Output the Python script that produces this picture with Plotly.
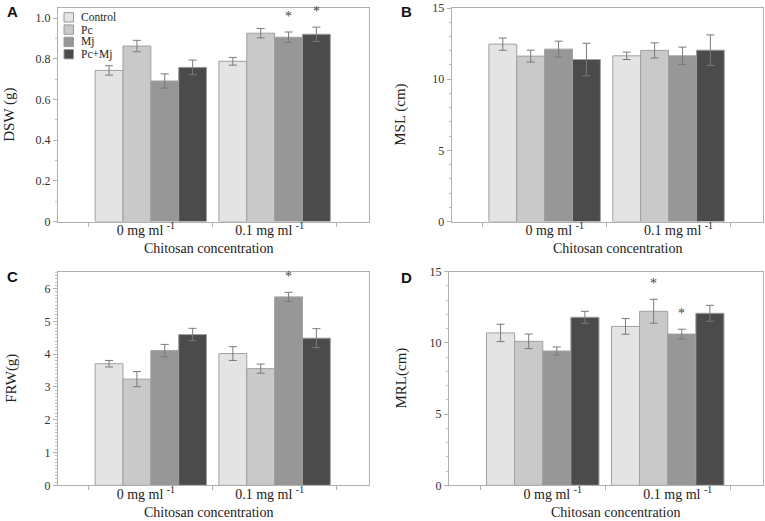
import plotly.graph_objects as go

W, H = 765, 521
series = ["Control", "Pc", "Mj", "Pc+Mj"]
colors = ["#e4e4e4", "#c9c9c9", "#979797", "#4b4b4b"]
cats = ["0 mg ml <sup>-1</sup>", "0.1 mg ml <sup>-1</sup>"]

# values per series: [0 mg, 0.1 mg]
dsw = [[0.743, 0.788], [0.863, 0.926], [0.691, 0.906], [0.758, 0.921]]
dsw_err = [[0.023, 0.019], [0.028, 0.023], [0.035, 0.026], [0.036, 0.035]]
msl = [[12.46, 11.64], [11.62, 12.02], [12.11, 11.64], [11.38, 12.04]]
msl_err = [[0.43, 0.26], [0.42, 0.53], [0.56, 0.61], [1.14, 1.07]]
frw = [[3.71, 4.02], [3.24, 3.56], [4.11, 5.75], [4.60, 4.49]]
frw_err = [[0.10, 0.21], [0.23, 0.14], [0.19, 0.14], [0.19, 0.29]]
mrl = [[10.70, 11.16], [10.11, 12.22], [9.43, 10.62], [11.80, 12.08]]
mrl_err = [[0.61, 0.55], [0.51, 0.84], [0.28, 0.34], [0.42, 0.56]]

# significance marks: (series index, category index)
sig_a = [(2, 1), (3, 1)]
sig_b = []
sig_c = [(2, 1)]
sig_d = [(1, 1), (2, 1)]

panels = [
    dict(name="A", vals=dsw, err=dsw_err, sig=sig_a, ytitle="DSW (g)", yr=[0, 1.05], dt=0.2, mdt=0.1,
         px=(58, 368.7), py=(8, 221.5), title_x=10, letter=(13, 12), tshift=-5),
    dict(name="B", vals=msl, err=msl_err, sig=sig_b, ytitle="MSL (cm)", yr=[0, 15], dt=5, mdt=1,
         px=(451.7, 762.7), py=(8, 221.5), title_x=401, letter=(406, 12), tshift=10),
    dict(name="C", vals=frw, err=frw_err, sig=sig_c, ytitle="FRW(g)", yr=[0, 6.5], dt=1, mdt=0.1,
         px=(58, 368.7), py=(272.3, 485.3), title_x=12, letter=(13, 276), tshift=-5),
    dict(name="D", vals=mrl, err=mrl_err, sig=sig_d, ytitle="MRL(cm)", yr=[0, 15], dt=5, mdt=1,
         px=(449, 762.7), py=(271.7, 485.3), title_x=401, letter=(406, 277), tshift=10),
]
XR = [-0.75, 1.76]

fig = go.Figure()
SERIF = "Liberation Serif"
annotations = []
shapes = []

for k, p in enumerate(panels):
    ax = "" if k == 0 else str(k + 1)
    xa, ya = "x" + ax, "y" + ax
    for i, s in enumerate(series):
        fig.add_trace(go.Bar(
            x=cats, y=p["vals"][i], name=s, xaxis=xa, yaxis=ya,
            marker=dict(color=colors[i], line=dict(color="#a0a0a0", width=1)),
            error_y=dict(type="data", array=p["err"][i], color="#7a7a7a", thickness=1, width=4),
            showlegend=False, offsetgroup=str(i),
        ))
    x0, x1 = p["px"]
    y0, y1 = p["py"]
    dom_x = [x0 / W, x1 / W]
    dom_y = [1 - y1 / H, 1 - y0 / H]
    fig.layout["xaxis" + ax] = dict(
        domain=dom_x, anchor=ya, type="category", range=XR, tickson="boundaries",
        ticks="outside", ticklen=4, tickcolor="#b0b0b0", showline=True, linecolor="#b0b0b0",
        linewidth=1, mirror=True, showgrid=False, zeroline=False, automargin=False,
        tickfont=dict(family=SERIF, size=14, color="#222"), ticklabelshift=p["tshift"],
        ticklabelstandoff=-4,
    )
    fig.layout["yaxis" + ax] = dict(
        domain=dom_y, anchor=xa, range=p["yr"], dtick=p["dt"], tick0=0,
        ticks="outside", ticklen=4, tickcolor="#b0b0b0", showline=True, linecolor="#b0b0b0",
        linewidth=1, mirror=True, showgrid=False, zeroline=False, automargin=False,
        tickfont=dict(family=SERIF, size=12, color="#333"),
        minor=dict(dtick=p["mdt"], ticks="outside", ticklen=2, tickcolor="#c0c0c0", showgrid=False),
    )
    if p["name"] == "A":
        fig.layout["yaxis"].update(tickvals=[0, 0.2, 0.4, 0.6, 0.8, 1.0],
                                   ticktext=["0", "0.2", "0.4", "0.6", "0.8", "1.0"])
    # x title
    annotations.append(dict(text="Chitosan concentration", xref="paper", yref="paper",
                            x=(x0 + x1) / 2 / W + p["tshift"] / W, y=1 - (y1 + 27) / H,
                            showarrow=False, font=dict(family=SERIF, size=14, color="#222"),
                            xanchor="center", yanchor="middle"))
    # y title
    annotations.append(dict(text=p["ytitle"], xref="paper", yref="paper",
                            x=p["title_x"] / W, y=1 - ((y0 + y1) / 2) / H, textangle=-90,
                            showarrow=False, font=dict(family=SERIF, size=15, color="#222"),
                            xanchor="center", yanchor="middle"))
    # panel letter
    annotations.append(dict(text="<b>%s</b>" % p["name"], xref="paper", yref="paper",
                            x=p["letter"][0] / W, y=1 - p["letter"][1] / H, showarrow=False,
                            font=dict(family="Liberation Sans", size=15, color="#111"),
                            xanchor="center", yanchor="middle"))
    # significance asterisks
    unit_px = (x1 - x0) / (XR[1] - XR[0])
    bw = 0.9 / len(series)
    for (i, c) in p["sig"]:
        annotations.append(dict(text="*", x=cats[c], y=p["vals"][i][c] + p["err"][i][c],
                                xref=xa, yref=ya, showarrow=False,
                                xshift=(i - 1.5) * bw * unit_px, yshift=6,
                                font=dict(family=SERIF, size=14, color="#444"),
                                xanchor="center", yanchor="bottom"))

# manual legend in panel A
leg_x, leg_y, leg_dy = 64, 17.3, 12.3
for i, s in enumerate(series):
    cy = leg_y + i * leg_dy
    shapes.append(dict(type="rect", xref="paper", yref="paper",
                       x0=leg_x / W, x1=(leg_x + 9.5) / W,
                       y0=1 - (cy + 4.7) / H, y1=1 - (cy - 4.7) / H,
                       fillcolor=colors[i], line=dict(color="#9a9a9a", width=1)))
    annotations.append(dict(text=s, xref="paper", yref="paper", x=(leg_x + 15) / W, y=1 - cy / H,
                            showarrow=False, xanchor="left", yanchor="middle",
                            font=dict(family=SERIF, size=11.5, color="#222")))

fig.update_layout(
    width=W, height=H, margin=dict(l=0, r=0, t=0, b=0, autoexpand=False),
    paper_bgcolor="white", plot_bgcolor="white",
    barmode="group", bargap=0.1, bargroupgap=0,
    annotations=annotations, shapes=shapes, showlegend=False,
)
fig.write_html("out.html", config={"displayModeBar": False},
               post_script="document.body.style.margin='0';document.body.style.overflow='hidden';")
